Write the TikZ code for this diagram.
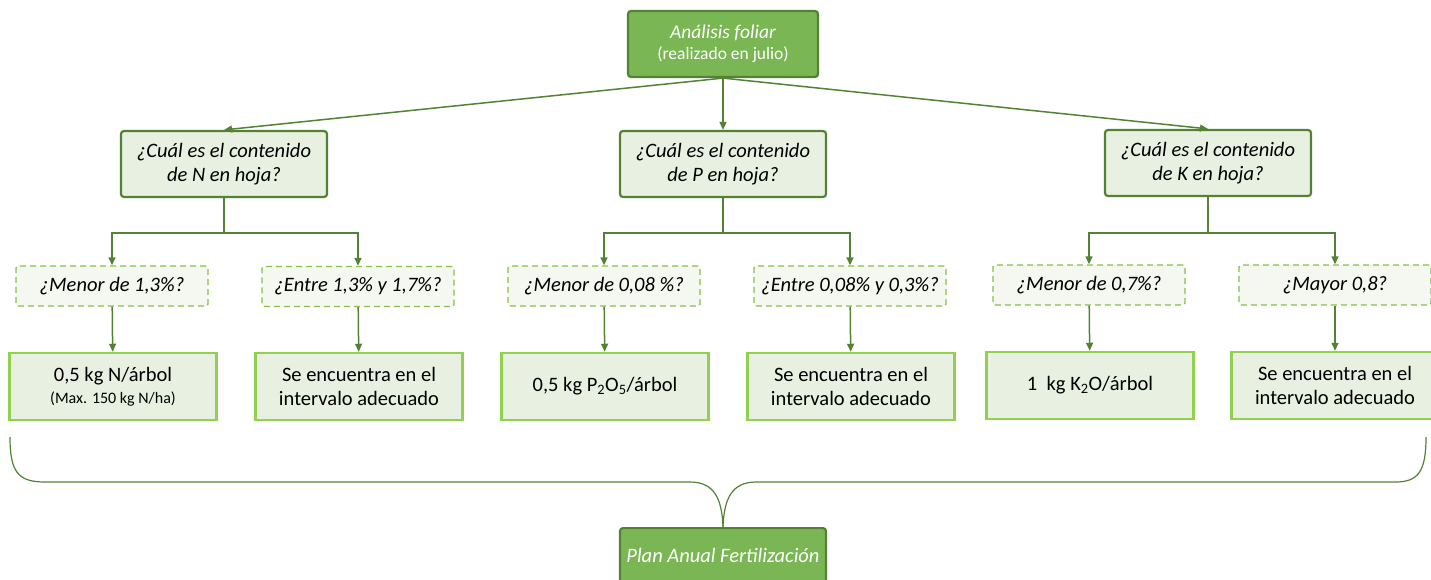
\documentclass[tikz,border=0pt]{standalone}
\usepackage{fontspec}
\setmainfont{Carlito}
\usetikzlibrary{positioning,arrows.meta}
\definecolor{hojaosc}{HTML}{548235}
\definecolor{hojamed}{HTML}{7AB654}
\definecolor{hojaclara}{HTML}{E8F1E1}
\definecolor{hojapal}{HTML}{F4F8F0}
\definecolor{hojalima}{HTML}{92D050}
\tikzset{
>={Triangle[length=8pt,width=7pt]},
x=1pt, y=-1pt,
every node/.style={align=center, inner sep=2pt},
head/.style={draw=hojaosc, fill=hojamed, line width=2.2pt, rounded corners=3pt, text=white, minimum width=190pt, minimum height=66pt},
ask/.style={draw=hojaosc, fill=hojaclara, line width=2.2pt, rounded corners=3pt, minimum width=206pt, minimum height=66pt, font=\itshape\fontsize{20.5}{24}\selectfont},
cond/.style={draw=hojalima!80!hojaosc, fill=hojapal, line width=1.4pt, dash pattern=on 6pt off 4pt, rounded corners=2pt, minimum width=192pt, minimum height=40pt, font=\itshape\fontsize{20.5}{24}\selectfont},
dose/.style={draw=hojalima, fill=hojaclara, line width=2.5pt, minimum width=207pt, minimum height=67pt, font=\fontsize{20.5}{24}\selectfont},
link/.style={->, draw=hojaosc, line width=1.5pt},
}

\begin{document}
\begin{tikzpicture}
    \useasboundingbox (0,0) rectangle (1431,579);

    \node [head] (top) at (723,44)
    {
        {\itshape\fontsize{19.5}{24}\selectfont Análisis foliar}
        \\[5pt]
        {\fontsize{17.5}{20}\selectfont (realizado en julio)}
    };

    \node [ask] (qn) at (224,164) {¿Cuál es el contenido\\de N en hoja?};
    \node [ask] (qp) at (723,164) {¿Cuál es el contenido\\de P en hoja?};
    \node [ask] (qk) at (1208,163) {¿Cuál es el contenido\\de K en hoja?};

    \node [cond] (cn1) at (112,286) {¿Menor de 1,3\%?};
    \node [cond] (cn2) at (358,286.5) {¿Entre 1,3\% y 1,7\%?};
    \node [cond] (cp1) at (604,286) {¿Menor de 0,08 \%?};
    \node [cond] (cp2) at (850,286) {¿Entre 0,08\% y 0,3\%?};
    \node [cond] (ck1) at (1089,285) {¿Menor de 0,7\%?};
    \node [cond] (ck2) at (1335,285) {¿Mayor 0,8?};

    \node [dose] (dn1) at (113,386.5) {0,5 kg N/árbol\\[-2pt]{\fontsize{16}{18}\selectfont (Max. 150 kg N/ha)}};
    \node [dose] (dn2) at (359,386.5) {Se encuentra en el\\intervalo adecuado};
    \node [dose] (dp1) at (605,386.5) {0,5 kg P\textsubscript{2}O\textsubscript{5}/árbol};
    \node [dose] (dp2) at (851,386.5) {Se encuentra en el\\intervalo adecuado};
    \node [dose] (dk1) at (1090,385.5) {1\ \ kg K\textsubscript{2}O/árbol};
    \node [dose] (dk2) at (1335,385.5) {Se encuentra en el\\intervalo adecuado};

    \node [head, minimum width=206pt, minimum height=58pt, anchor=north] (plan) at (723,527)
    {\raisebox{4pt}{\itshape\fontsize{20.5}{24}\selectfont Plan Anual Fertilización}};

    \coordinate (brl) at (10,437);
    \coordinate (brr) at (1426,437);

    \draw[link] (top.south) -- (qn.north);
    \draw[link] (top.south) -- (qp.north);
    \draw[link] (top.south) -- (qk.north);

    \draw[link] (qn.south) -- ++(0,35) coordinate (bn) -| (cn1.north);
    \draw[link] (bn) -| (cn2.north);
    \draw[link] (qp.south) -- ++(0,35) coordinate (bp) -| (cp1.north);
    \draw[link] (bp) -| (cp2.north);
    \draw[link] (qk.south) -- ++(0,36) coordinate (bk) -| (ck1.north);
    \draw[link] (bk) -| (ck2.north);

    \draw[link] (cn1) -- (dn1);
    \draw[link] (cn2) -- (dn2);
    \draw[link] (cp1) -- (dp1);
    \draw[link] (cp2) -- (dp2);
    \draw[link] (ck1) -- (dk1);
    \draw[link] (ck2) -- (dk2);

    \draw[hojaosc, line width=1.2pt] (brl) .. controls (10,472) and (18,482) .. (45,482) -- (690,482) .. controls (715,482) and (722,500) .. (plan.north);
    \draw[hojaosc, line width=1.2pt] (brr) .. controls (1426,472) and (1418,482) .. (1395,482) -- (756,482) .. controls (731,482) and (724,500) .. (plan.north);

\end{tikzpicture}
\end{document}
